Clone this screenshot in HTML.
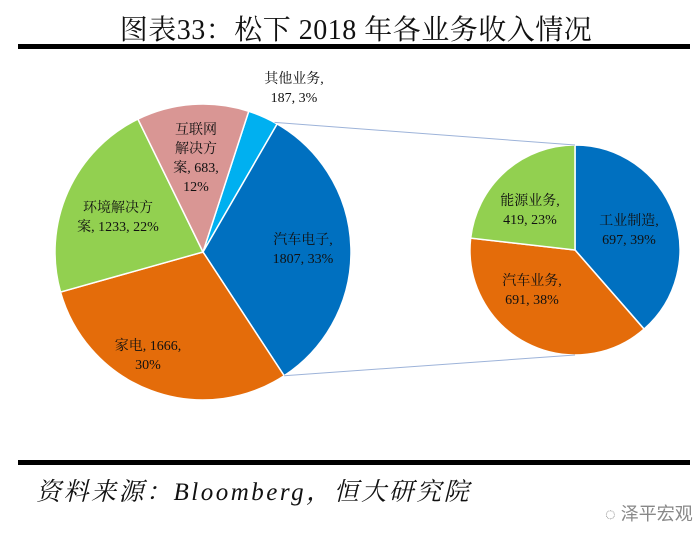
<!DOCTYPE html>
<html><head><meta charset="utf-8"><style>
body{margin:0;background:#fff;width:700px;height:537px;overflow:hidden;position:relative;font-family:"Liberation Serif","Noto Serif CJK SC",serif}
#title{position:absolute;left:0;width:712px;top:8px;text-align:center;font-size:28px;color:#111;white-space:nowrap;letter-spacing:0.5px}
.rule{position:absolute;left:18px;width:672px;height:5px;background:#000}
#src{position:absolute;left:36px;top:472px;font-size:25px;font-style:italic;color:#111;white-space:nowrap;letter-spacing:2.5px}
#wm{position:absolute;left:605px;top:500px;font-size:18px;color:#888;font-family:"Liberation Sans","Noto Sans CJK SC",sans-serif}
svg{position:absolute;left:0;top:0}
svg text{font-family:"Liberation Serif","Noto Serif CJK SC",serif;font-size:14px;fill:#111}
</style></head><body>
<div id="title">图表33：松下 2018 年各业务收入情况</div>
<div class="rule" style="top:44px"></div>
<div class="rule" style="top:460px"></div>
<div id="src">资料来源：Bloomberg，恒大研究院</div>
<div id="wm">◌ 泽平宏观</div>
<svg id="chart" width="700" height="537"></svg>
<script>
const mainCats=["其他业务","汽车电子","家电","环境解决方案","互联网解决方案"];
const mainVals=[187,1807,1666,1233,683];
const mainPct=["3%","33%","30%","22%","12%"];
const subCats=["工业制造","汽车业务","能源业务"];
const subVals=[697,691,419];
const subPct=["39%","38%","23%"];
const NS="http://www.w3.org/2000/svg";
const svg=document.getElementById('chart');
function pt(cx,cy,r,a){return [cx+r*Math.sin(a),cy-r*Math.cos(a)];}
function arc(cx,cy,r,a0,a1){const p0=pt(cx,cy,r,a0),p1=pt(cx,cy,r,a1);const lg=(a1-a0)>Math.PI?1:0;
return `M${cx},${cy}L${p0[0]},${p0[1]}A${r},${r} 0 ${lg} 1 ${p1[0]},${p1[1]}Z`;}
function drawPie(cx,cy,r,vals,start,colors,names){
 const tot=vals.reduce((a,b)=>a+b,0);let a=start;const angs=[];
 vals.forEach((v,i)=>{const a1=a+v/tot*2*Math.PI;
  const p=document.createElementNS(NS,'path');
  p.setAttribute('d',arc(cx,cy,r,a,a1));p.setAttribute('fill',colors[i]);p.setAttribute('stroke','#fff');p.setAttribute('stroke-width','1.5');
  
  
  svg.appendChild(p);angs.push([a,a1]);a=a1;});
 return angs;}
const mA=drawPie(203,252,148,mainVals,18*Math.PI/180,["#00B0F0","#0070C0","#E46C0A","#92D050","#D99694"],["slice-other","slice-auto-electronics","slice-appliances","slice-environment","slice-iot"]);
const sA=drawPie(575,250,105,subVals,0,["#0070C0","#E46C0A","#92D050"],["slice-industrial","slice-automotive","slice-energy"]);
[0,1].forEach(i=>{const e=document.createElementNS(NS,'line');
 const s=i==0?pt(203,252,148,mA[0][0]+0.19):pt(203,252,148,mA[1][1]);
 const t=i==0?[575,145]:[575,355];
 e.setAttribute('x1',s[0]);e.setAttribute('y1',s[1]);e.setAttribute('x2',t[0]);e.setAttribute('y2',t[1]);
 e.setAttribute('stroke','#9DB3D9');e.setAttribute('stroke-width','1');
 
 
 svg.appendChild(e);});
function label(lines,x,y,name){const t=document.createElementNS(NS,'text');t.setAttribute('text-anchor','middle');
 
 
 lines.forEach((s,i)=>{const ts=document.createElementNS(NS,'tspan');ts.setAttribute('x',x);ts.setAttribute('y',y+i*19);ts.textContent=s;t.appendChild(ts);});svg.appendChild(t);}
label([mainCats[0]+",",mainVals[0]+", "+mainPct[0]],294,83,"label-other");
label([mainCats[1]+",",mainVals[1]+", "+mainPct[1]],303,244,"label-auto-electronics");
label(["家电, "+mainVals[2]+",",mainPct[2]],148,350,"label-appliances");
label(["环境解决方","案, "+mainVals[3]+", "+mainPct[3]],118,212,"label-environment");
label(["互联网","解决方","案, "+mainVals[4]+",",mainPct[4]],196,134,"label-iot");
label([subCats[0]+",",subVals[0]+", "+subPct[0]],629,225,"label-industrial");
label([subCats[1]+",",subVals[1]+", "+subPct[1]],532,285,"label-automotive");
label([subCats[2]+",",subVals[2]+", "+subPct[2]],530,205,"label-energy");
</script>
</body></html>
